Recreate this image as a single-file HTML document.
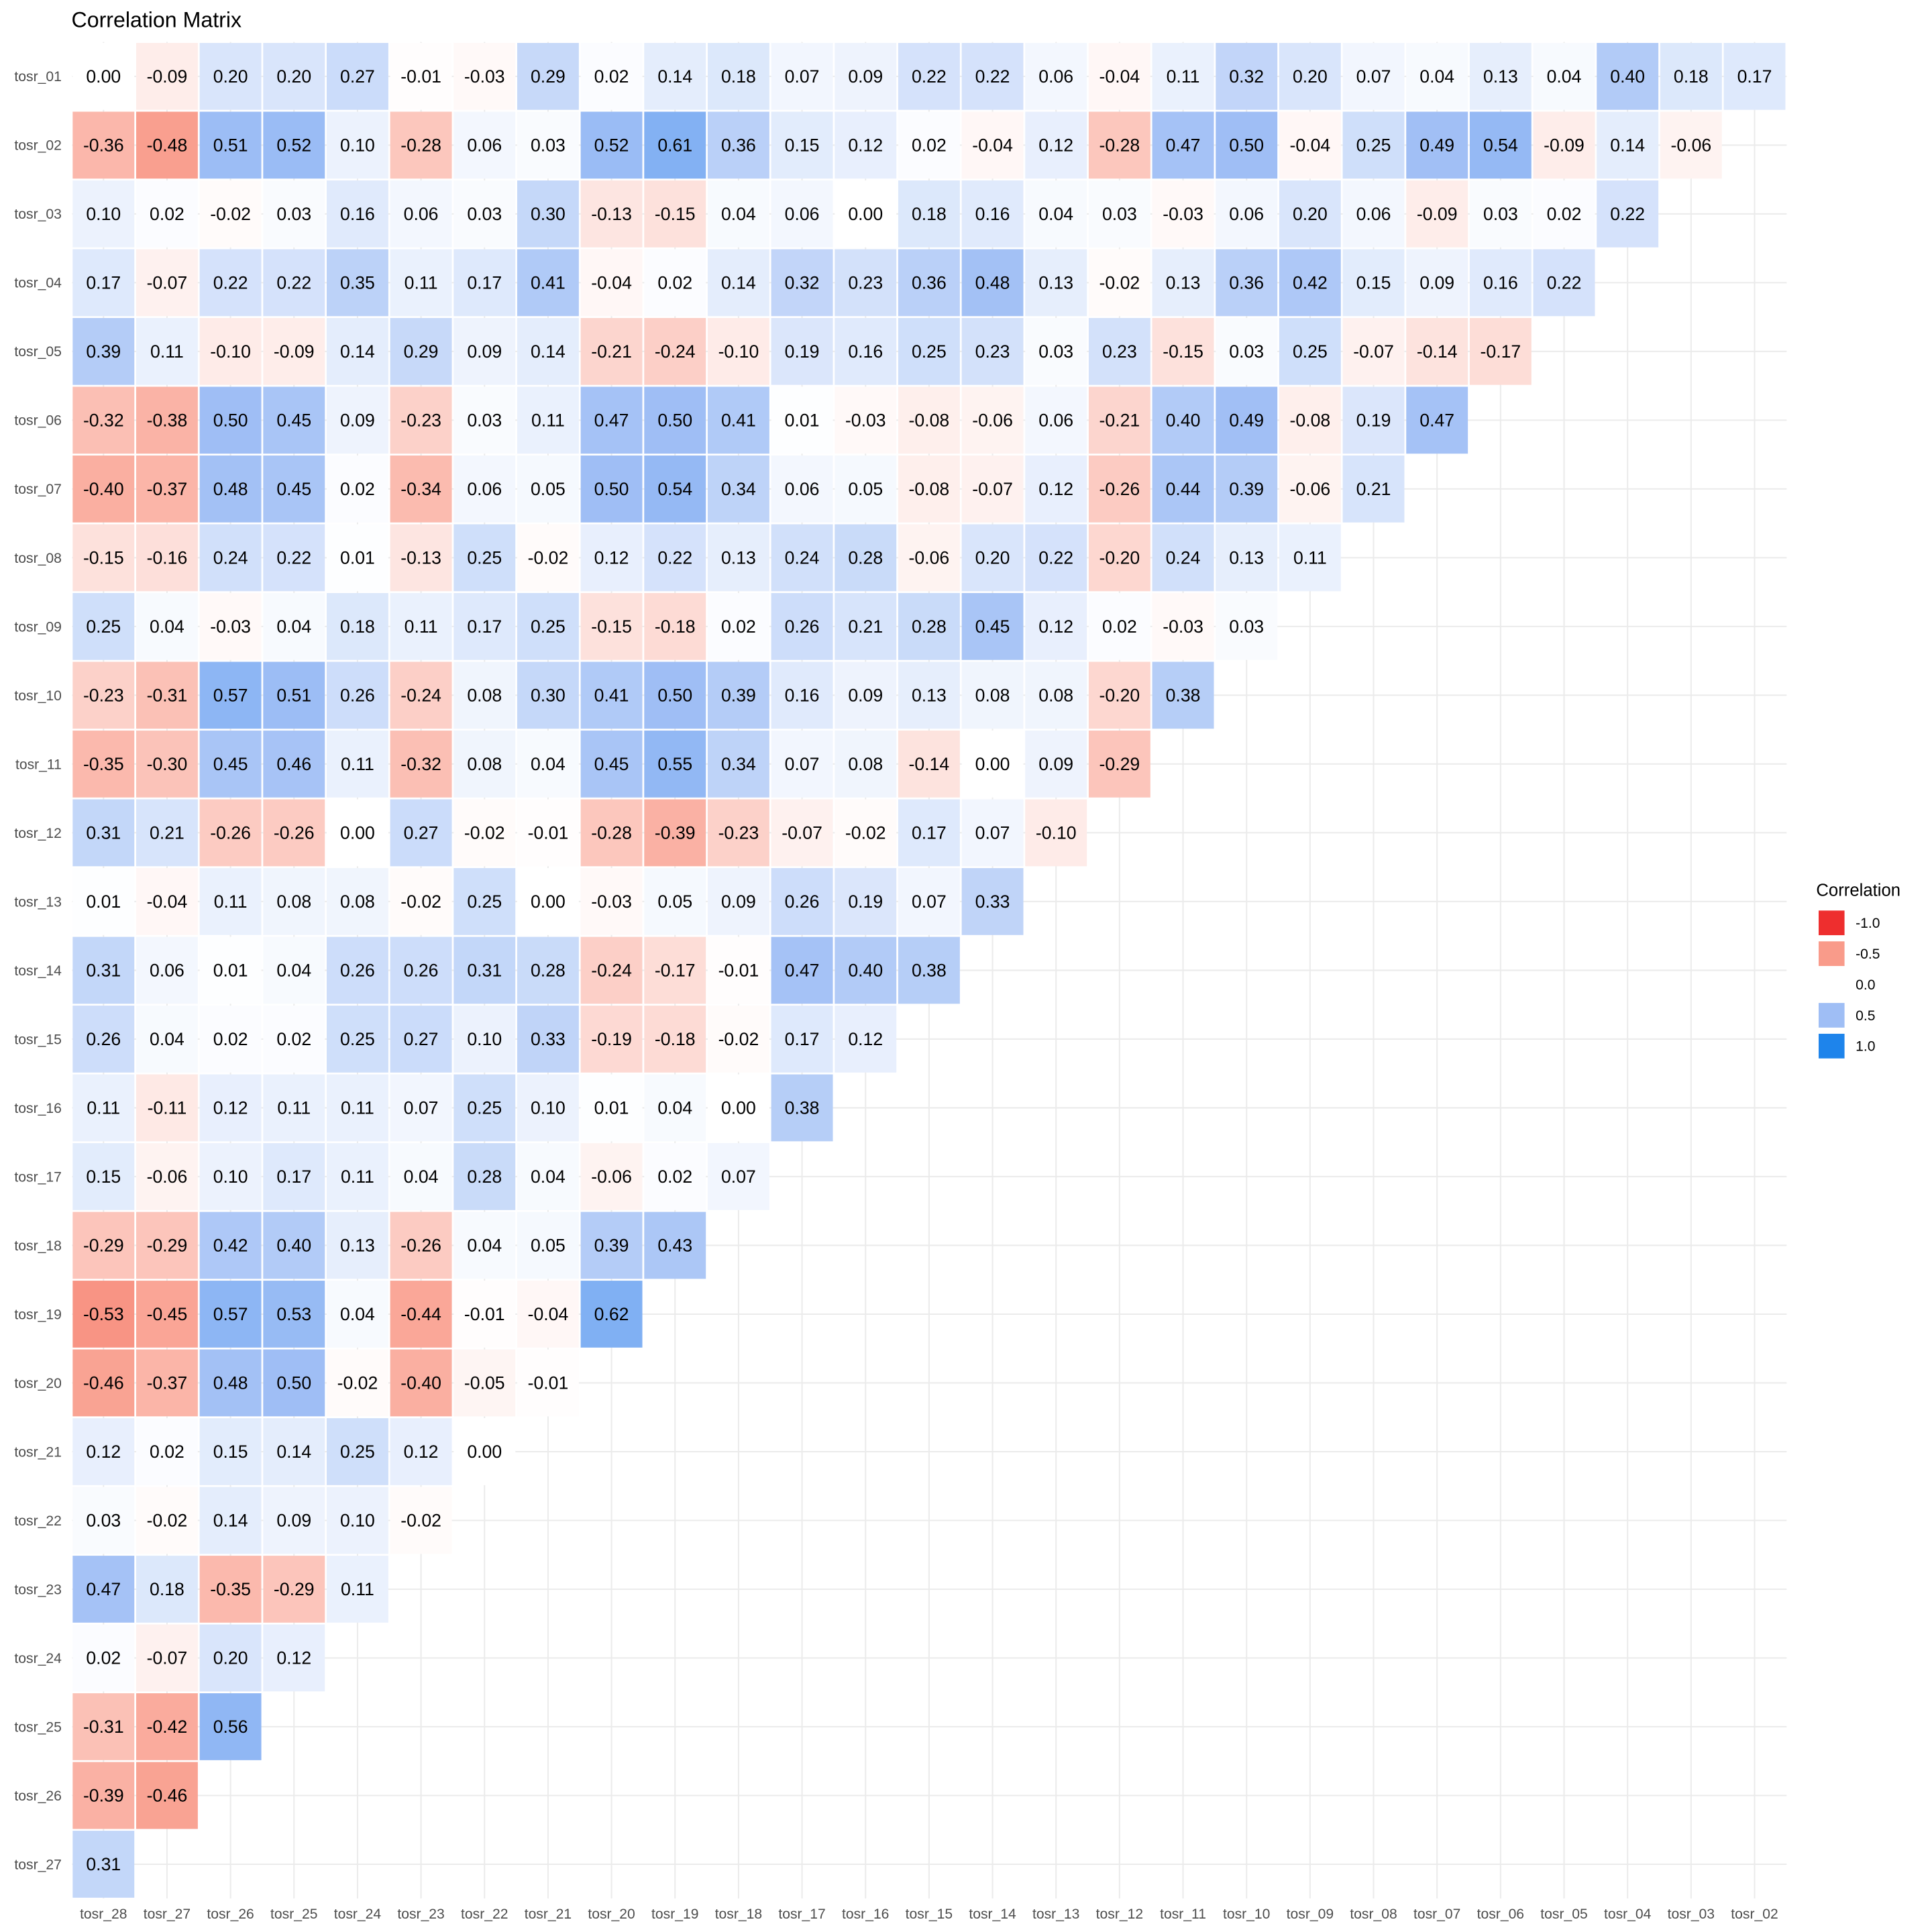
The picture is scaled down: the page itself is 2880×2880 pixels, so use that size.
<!DOCTYPE html>
<html><head><meta charset="utf-8"><style>html,body{margin:0;padding:0;background:#fff}svg{display:block}</style></head>
<body>
<svg id="s" xmlns="http://www.w3.org/2000/svg" width="2880" height="2880" viewBox="0 0 1568 1568" font-family="Liberation Sans, Arial, sans-serif"></svg>
<script>
const D=[
"0.00 -0.09 0.20 0.20 0.27 -0.01 -0.03 0.29 0.02 0.14 0.18 0.07 0.09 0.22 0.22 0.06 -0.04 0.11 0.32 0.20 0.07 0.04 0.13 0.04 0.40 0.18 0.17",
"-0.36 -0.48 0.51 0.52 0.10 -0.28 0.06 0.03 0.52 0.61 0.36 0.15 0.12 0.02 -0.04 0.12 -0.28 0.47 0.50 -0.04 0.25 0.49 0.54 -0.09 0.14 -0.06",
"0.10 0.02 -0.02 0.03 0.16 0.06 0.03 0.30 -0.13 -0.15 0.04 0.06 0.00 0.18 0.16 0.04 0.03 -0.03 0.06 0.20 0.06 -0.09 0.03 0.02 0.22",
"0.17 -0.07 0.22 0.22 0.35 0.11 0.17 0.41 -0.04 0.02 0.14 0.32 0.23 0.36 0.48 0.13 -0.02 0.13 0.36 0.42 0.15 0.09 0.16 0.22",
"0.39 0.11 -0.10 -0.09 0.14 0.29 0.09 0.14 -0.21 -0.24 -0.10 0.19 0.16 0.25 0.23 0.03 0.23 -0.15 0.03 0.25 -0.07 -0.14 -0.17",
"-0.32 -0.38 0.50 0.45 0.09 -0.23 0.03 0.11 0.47 0.50 0.41 0.01 -0.03 -0.08 -0.06 0.06 -0.21 0.40 0.49 -0.08 0.19 0.47",
"-0.40 -0.37 0.48 0.45 0.02 -0.34 0.06 0.05 0.50 0.54 0.34 0.06 0.05 -0.08 -0.07 0.12 -0.26 0.44 0.39 -0.06 0.21",
"-0.15 -0.16 0.24 0.22 0.01 -0.13 0.25 -0.02 0.12 0.22 0.13 0.24 0.28 -0.06 0.20 0.22 -0.20 0.24 0.13 0.11",
"0.25 0.04 -0.03 0.04 0.18 0.11 0.17 0.25 -0.15 -0.18 0.02 0.26 0.21 0.28 0.45 0.12 0.02 -0.03 0.03",
"-0.23 -0.31 0.57 0.51 0.26 -0.24 0.08 0.30 0.41 0.50 0.39 0.16 0.09 0.13 0.08 0.08 -0.20 0.38",
"-0.35 -0.30 0.45 0.46 0.11 -0.32 0.08 0.04 0.45 0.55 0.34 0.07 0.08 -0.14 0.00 0.09 -0.29",
"0.31 0.21 -0.26 -0.26 0.00 0.27 -0.02 -0.01 -0.28 -0.39 -0.23 -0.07 -0.02 0.17 0.07 -0.10",
"0.01 -0.04 0.11 0.08 0.08 -0.02 0.25 0.00 -0.03 0.05 0.09 0.26 0.19 0.07 0.33",
"0.31 0.06 0.01 0.04 0.26 0.26 0.31 0.28 -0.24 -0.17 -0.01 0.47 0.40 0.38",
"0.26 0.04 0.02 0.02 0.25 0.27 0.10 0.33 -0.19 -0.18 -0.02 0.17 0.12",
"0.11 -0.11 0.12 0.11 0.11 0.07 0.25 0.10 0.01 0.04 0.00 0.38",
"0.15 -0.06 0.10 0.17 0.11 0.04 0.28 0.04 -0.06 0.02 0.07",
"-0.29 -0.29 0.42 0.40 0.13 -0.26 0.04 0.05 0.39 0.43",
"-0.53 -0.45 0.57 0.53 0.04 -0.44 -0.01 -0.04 0.62",
"-0.46 -0.37 0.48 0.50 -0.02 -0.40 -0.05 -0.01",
"0.12 0.02 0.15 0.14 0.25 0.12 0.00",
"0.03 -0.02 0.14 0.09 0.10 -0.02",
"0.47 0.18 -0.35 -0.29 0.11",
"0.02 -0.07 0.20 0.12",
"-0.31 -0.42 0.56",
"-0.39 -0.46",
"0.31"];
function lerp(a,b,t){return a.map((v,i)=>Math.round(v+(b[i]-v)*t));}
const W=[255,255,255],B5=[159,190,245],B1=[30,132,235],R5=[249,155,138],R1=[238,46,46];
function col(v){let c,a=Math.abs(v);
 if(v>=0)c=a<=.5?lerp(W,B5,a/.5):lerp(B5,B1,(a-.5)/.5);
 else c=a<=.5?lerp(W,R5,a/.5):lerp(R5,R1,(a-.5)/.5);
 return `rgb(${c[0]},${c[1]},${c[2]})`;}
const x0=58.5,cw=(1424-84)/26,y0=34,ch=(1513-62)/26;
const cx=j=>84+j*cw, cy=i=>62+i*ch;
let s=`<rect width="1568" height="1568" fill="#fff"/>`;
for(let j=0;j<27;j++)s+=`<line x1="${cx(j)}" x2="${cx(j)}" y1="${y0}" y2="${y0+27*ch}" stroke="#ebebeb" stroke-width="1.1"/>`;
for(let i=0;i<27;i++)s+=`<line y1="${cy(i)}" y2="${cy(i)}" x1="${x0}" x2="${x0+27*cw}" stroke="#ebebeb" stroke-width="1.1"/>`;
const pad=n=>(n<10?"0":"")+n;
D.forEach((r,i)=>{r.split(" ").forEach((t,j)=>{const v=parseFloat(t);
 s+=`<rect x="${cx(j)-cw/2+0.75}" y="${cy(i)-ch/2+0.75}" width="${cw-1.5}" height="${ch-1.5}" fill="${col(v)}"/>`;
 s+=`<text x="${cx(j)}" y="${cy(i)+5}" font-size="14.5" text-anchor="middle" fill="#000">${t}</text>`;});});
for(let i=0;i<27;i++)s+=`<text x="50" y="${cy(i)+4}" font-size="11.5" text-anchor="end" fill="#4d4d4d">tosr_${pad(i+1)}</text>`;
for(let j=0;j<27;j++)s+=`<text x="${cx(j)}" y="1557" font-size="11.5" text-anchor="middle" fill="#4d4d4d">tosr_${pad(28-j)}</text>`;
s+=`<text x="58" y="22" font-size="17.5" fill="#000">Correlation Matrix</text>`;
s+=`<text x="1474" y="727" font-size="14" fill="#000">Correlation</text>`;
[[-1,"-1.0"],[-.5,"-0.5"],[0,"0.0"],[.5,"0.5"],[1,"1.0"]].forEach((k,n)=>{const y=739+n*25;
 s+=`<rect x="1476" y="${y}" width="21" height="20" fill="${col(k[0])}"/><text x="1506" y="${y+14}" font-size="11.5" fill="#000">${k[1]}</text>`;});
document.getElementById("s").innerHTML=s;
</script>
</body></html>
